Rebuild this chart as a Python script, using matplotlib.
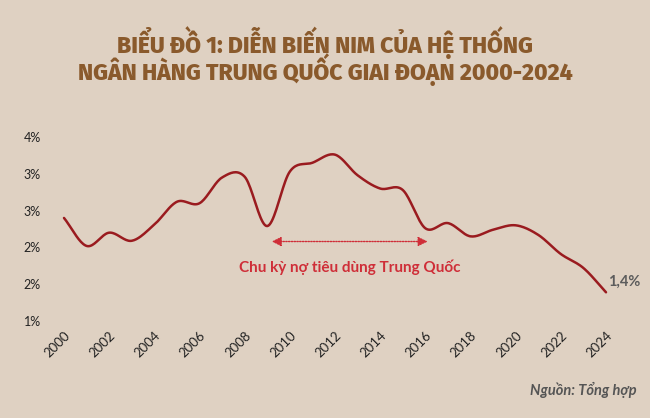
import numpy as np
import matplotlib
matplotlib.use("Agg")
import matplotlib.pyplot as plt
from matplotlib.ticker import FuncFormatter

years = list(range(2000, 2025))
nim = [2.40, 2.02, 2.20, 2.09, 2.31, 2.62, 2.60, 2.95, 2.96, 2.29,
       3.03, 3.15, 3.26, 2.98, 2.80, 2.78, 2.26, 2.33, 2.15, 2.24,
       2.30, 2.17, 1.91, 1.72, 1.39]
xticks = list(range(2000, 2025, 2))
yticks = [1.0, 1.5, 2.0, 2.5, 3.0, 3.5]
title_lines = ["BIỂU ĐỒ 1: DIỄN BIẾN NIM CỦA HỆ THỐNG",
               "NGÂN HÀNG TRUNG QUỐC GIAI ĐOẠN 2000-2024"]
annot_text = "Chu kỳ nợ tiêu dùng Trung Quốc"
annot_span = (2009.2, 2016.1)
annot_y = 2.08
end_label = "1,4%"
source = "Nguồn: Tổng hợp"

BG = "#dfd1c2"
LINE = "#9a1b1f"
RED = "#cf2e38"
TITLE = "#8a5a2c"


def catmull_rom(x, y, n=20):
    x = np.asarray(x, float)
    y = np.asarray(y, float)
    px = np.concatenate([[2 * x[0] - x[1]], x, [2 * x[-1] - x[-2]]])
    py = np.concatenate([[2 * y[0] - y[1]], y, [2 * y[-1] - y[-2]]])
    xs, ys = [], []
    t = np.linspace(0, 1, n, endpoint=False)
    for i in range(1, len(px) - 2):
        for arr, out in ((px, xs), (py, ys)):
            p0, p1, p2, p3 = arr[i - 1], arr[i], arr[i + 1], arr[i + 2]
            out.append(0.5 * ((2 * p1) + (-p0 + p2) * t
                              + (2 * p0 - 5 * p1 + 4 * p2 - p3) * t ** 2
                              + (-p0 + 3 * p1 - 3 * p2 + p3) * t ** 3))
    xs = np.concatenate(xs + [[x[-1]]])
    ys = np.concatenate(ys + [[y[-1]]])
    return xs, ys


W, H = 650, 418
fig = plt.figure(figsize=(W / 100, H / 100), dpi=100, facecolor=BG)
ax = fig.add_axes([64 / W, (H - 321) / H, (606 - 64) / W, (321 - 137) / H])
ax.set_facecolor(BG)

sx, sy = catmull_rom(years, nim)
ax.plot(sx, sy, color=LINE, lw=1.8, solid_capstyle="round", clip_on=False)

ax.set_xlim(2000, 2024)
ax.set_ylim(1.0, 3.5)
ax.set_xticks(xticks)
ax.set_yticks(yticks)
ax.yaxis.set_major_formatter(FuncFormatter(lambda v, p: f"{int(np.floor(v + 0.5))}%"))
for s in ax.spines.values():
    s.set_visible(False)
ax.tick_params(length=0)
ax.tick_params(axis="y", pad=29, labelsize=9, labelcolor="#222222")
ax.tick_params(axis="x", pad=6, labelsize=9.5, labelcolor="#222222")
for lab in ax.get_yticklabels():
    lab.set_fontfamily("Lato")
    lab.set_horizontalalignment("left")
for lab in ax.get_xticklabels():
    lab.set_fontfamily("Lato")
    lab.set_rotation(45)
    lab.set_ha("right")
    lab.set_rotation_mode("anchor")

# annotation arrow
ax.annotate("", xy=(annot_span[0], annot_y), xytext=(annot_span[1], annot_y),
            arrowprops=dict(arrowstyle="<|-|>", color=RED, lw=1, ls=(0, (1, 1)),
                            mutation_scale=14, shrinkA=0, shrinkB=0))
ax.text(sum(annot_span) / 2, annot_y - 0.35, annot_text, color=RED,
        fontsize=11, fontweight="bold", family="Lato", ha="center", va="center")

ax.text(years[-1] + 0.1, nim[-1] + 0.14, end_label, color="#5c5c5c",
        fontsize=10.5, fontweight="bold", family="Lato", ha="left", va="center")

title_texts = []
for line, yc in zip(title_lines, (52.8, 80.3)):
    title_texts.append(fig.text(0.5, (H - yc) / H, line, color=TITLE, fontsize=16,
                                fontweight=800,
                                family=["Fira Sans", "Barlow Semi Condensed"],
                                ha="center", va="baseline"))
# fit the second title line to the reference width (~557 px), capped in size
renderer = fig.canvas.get_renderer()
w2 = title_texts[1].get_window_extent(renderer).width
fs = min(16 * 557 / w2, 16.5)
for t in title_texts:
    t.set_fontsize(fs)

fig.text(637 / W, (H - 390) / H, source, color="#555555", fontsize=10.5,
         fontweight="bold", style="italic", family="Lato", ha="right", va="center")

fig.savefig("out.png", dpi=100, facecolor=BG)
